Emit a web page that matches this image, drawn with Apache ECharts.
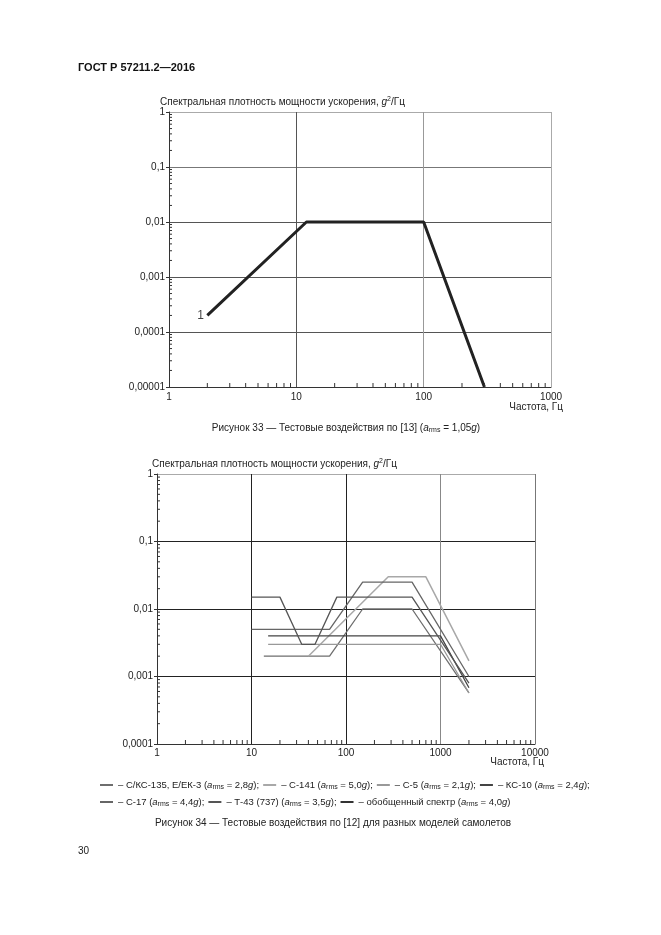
<!DOCTYPE html>
<html><head><meta charset="utf-8">
<script src="https://cdn.jsdelivr.net/npm/echarts@6/dist/echarts.min.js"></script>
<style>html,body{margin:0;padding:0;background:#fff}#c{width:661px;height:935px}</style>
</head><body><div id="c"></div>
<script>
const FONT = '"Liberation Sans", Arial, sans-serif';
// ---- Figure 33 data ----
const fig33Freq = [2, 12, 100, 300];
const fig33Psd = [0.0002, 0.01, 0.01, 0.00001];
const fig33XTicks = ['1', '10', '100', '1000'];
const fig33YTicks = ['0,00001', '0,0001', '0,001', '0,01', '0,1', '1'];
// ---- Figure 34 data ----
const fig34XTicks = ['1', '10', '100', '1000', '10000'];
const fig34YTicks = ['0,0001', '0,001', '0,01', '0,1', '1'];
const seriesNames = ['С/КС-135, Е/ЕК-3', 'С-141', 'С-5', 'КС-10', 'С-17', 'Т-43 (737)', 'обобщенный спектр'];
const seriesArms = ['2,8', '5,0', '2,1', '2,4', '4,4', '3,5', '4,0'];
const kc135Freq = [13.5, 67, 150, 500, 2000];
const kc135Psd = [0.002, 0.002, 0.01, 0.01, 0.00057];
const c141Freq = [40, 280, 700, 2000];
const c141Psd = [0.002, 0.03, 0.03, 0.0017];
const c5Freq = [15, 1000, 2000];
const c5Psd = [0.003, 0.003, 0.00057];
const kc10Freq = [15, 1000, 2000];
const kc10Psd = [0.004, 0.004, 0.00068];
const c17Freq = [10, 67, 150, 500, 2000];
const c17Psd = [0.005, 0.005, 0.025, 0.025, 0.001];
const t43Freq = [10, 20, 34, 47, 80, 500, 2000];
const t43Psd = [0.015, 0.015, 0.003, 0.003, 0.015, 0.015, 0.0008];
const genFreq = [];
const genPsd = [];

const fig34Freqs = [kc135Freq, c141Freq, c5Freq, kc10Freq, c17Freq, t43Freq, genFreq];
const fig34Psds = [kc135Psd, c141Psd, c5Psd, kc10Psd, c17Psd, t43Psd, genPsd];
const fig34Colors = ['#6e6e6e', '#a8a8a8', '#999999', '#444444', '#666666', '#555555', '#333333'];

const rich = {
  i: { fontStyle: 'italic', fontSize: 10, fontFamily: FONT, color: '#222' },
  sub: { fontSize: 7, fontFamily: FONT, color: '#222', padding: [5, 0, 0, 0] },
  sup: { fontSize: 7, fontFamily: FONT, color: '#222', padding: [0, 0, 6, 0] }
};
const richLeg = {
  i: { fontStyle: 'italic', fontSize: 9.5, fontFamily: FONT, color: '#222' },
  sub: { fontSize: 7, fontFamily: FONT, color: '#222', padding: [5, 0, 0, 0] }
};

function pairs(xs, ys) { return xs.map((x, i) => [x, ys[i]]); }
function minorVals(e0, e1) {
  const r = [];
  for (let e = e0; e < e1; e++) for (let k = 2; k <= 9; k++) r.push(k * Math.pow(10, e));
  return r;
}
function logFmt(labels, e0) {
  return v => labels[Math.round(Math.log10(v)) - e0] || '';
}
function tickSeries(idx, vals, dir, fixed, len) {
  return {
    type: 'custom', xAxisIndex: idx, yAxisIndex: idx, silent: true, z: 5,
    data: vals.map(v => dir === 'x' ? [v, fixed] : [fixed, v]),
    renderItem(params, api) {
      const p = api.coord([api.value(0), api.value(1)]);
      const shape = dir === 'x'
        ? { x1: p[0], y1: p[1], x2: p[0], y2: p[1] - len }
        : { x1: p[0], y1: p[1], x2: p[0] + len, y2: p[1] };
      return { type: 'line', shape, style: { stroke: '#333', lineWidth: 1 } };
    }
  };
}
const axisLbl = { fontSize: 10, fontFamily: FONT, color: '#222' };

const chart = echarts.init(document.getElementById('c'), null, { renderer: 'canvas' });

const fig34Series = seriesNames.map((n, k) => ({
  name: n, type: 'line', xAxisIndex: 1, yAxisIndex: 1,
  data: pairs(fig34Freqs[k], fig34Psds[k]),
  symbol: 'none', color: fig34Colors[k],
  itemStyle: { color: fig34Colors[k] },
  lineStyle: { color: fig34Colors[k], width: k === 1 ? 1.5 : 1.3 },
  z: 3
}));

function legendFmt(name) {
  const k = seriesNames.indexOf(name);
  return '– ' + name + ' ({i|a}{sub|rms} = ' + seriesArms[k] + '{i|g});'.replace(');', k === 6 ? ')' : ');');
}
const legendBase = {
  left: 100, itemWidth: 13, itemHeight: 2, itemGap: 4, icon: 'rect', selectedMode: false,
  padding: 0,
  textStyle: { fontSize: 9.5, fontFamily: FONT, color: '#222', rich: richLeg },
  formatter: legendFmt
};

chart.setOption({
  backgroundColor: '#fff',
  animation: false,
  grid: [
    { left: 169, top: 112, width: 382, height: 275 },
    { left: 157, top: 474, width: 378, height: 270 }
  ],
  xAxis: [
    {
      type: 'log', logBase: 10, gridIndex: 0, min: 1, max: 1000,
      axisLine: { lineStyle: { color: '#333', width: 1 } },
      axisTick: { show: false },
      axisLabel: Object.assign({ margin: 5, formatter: logFmt(fig33XTicks, 0) }, axisLbl),
      splitLine: { show: true, lineStyle: { color: ['#333', '#555', '#999', '#aaa'], width: 1 } }
    },
    {
      type: 'log', logBase: 10, gridIndex: 1, min: 1, max: 10000,
      axisLine: { lineStyle: { color: '#333', width: 1 } },
      axisTick: { show: false },
      axisLabel: Object.assign({ margin: 4, formatter: logFmt(fig34XTicks, 0) }, axisLbl),
      splitLine: { show: true, lineStyle: { color: ['#333', '#222', '#222', '#888', '#777'], width: 1 } }
    }
  ],
  yAxis: [
    {
      type: 'log', logBase: 10, gridIndex: 0, min: 0.00001, max: 1,
      axisLine: { lineStyle: { color: '#333', width: 1 } },
      axisTick: { show: true, length: 3, lineStyle: { color: '#333' } },
      axisLabel: Object.assign({ margin: 4, formatter: logFmt(fig33YTicks, -5) }, axisLbl),
      splitLine: { show: true, lineStyle: { color: ['#333', '#555', '#555', '#555', '#777', '#aaa'], width: 1 } }
    },
    {
      type: 'log', logBase: 10, gridIndex: 1, min: 0.0001, max: 1,
      axisLine: { lineStyle: { color: '#333', width: 1 } },
      axisTick: { show: true, length: 3, lineStyle: { color: '#333' } },
      axisLabel: Object.assign({ margin: 4, formatter: logFmt(fig34YTicks, -4) }, axisLbl),
      splitLine: { show: true, lineStyle: { color: ['#333', '#222', '#222', '#222', '#aaa'], width: 1 } }
    }
  ],
  legend: [
    Object.assign({ top: 780, data: seriesNames.slice(0, 4) }, legendBase),
    Object.assign({ top: 797, data: seriesNames.slice(4) }, legendBase)
  ],
  graphic: [
    { type: 'text', x: 78, y: 68, style: { text: 'ГОСТ Р 57211.2—2016', font: 'bold 11px ' + FONT, fill: '#111', textVerticalAlign: 'middle' } },
    { type: 'text', x: 160, y: 102, style: { text: 'Спектральная плотность мощности ускорения, {i|g}{sup|2}/Гц', font: '10px ' + FONT, fill: '#222', textVerticalAlign: 'middle', rich } },
    { type: 'text', x: 563, y: 407, style: { text: 'Частота, Гц', font: '10px ' + FONT, fill: '#222', textAlign: 'right', textVerticalAlign: 'middle' } },
    { type: 'text', x: 346, y: 428, style: { text: 'Рисунок 33 — Тестовые воздействия по [13] ({i|a}{sub|rms} = 1,05{i|g})', font: '10px ' + FONT, fill: '#222', textAlign: 'center', textVerticalAlign: 'middle', rich } },
    { type: 'text', x: 152, y: 464, style: { text: 'Спектральная плотность мощности ускорения, {i|g}{sup|2}/Гц', font: '10px ' + FONT, fill: '#222', textVerticalAlign: 'middle', rich } },
    { type: 'text', x: 544, y: 762, style: { text: 'Частота, Гц', font: '10px ' + FONT, fill: '#222', textAlign: 'right', textVerticalAlign: 'middle' } },
    { type: 'text', x: 333, y: 823, style: { text: 'Рисунок 34 — Тестовые воздействия по [12] для разных моделей самолетов', font: '10px ' + FONT, fill: '#222', textAlign: 'center', textVerticalAlign: 'middle' } },
    { type: 'text', x: 78, y: 851, style: { text: '30', font: '10px ' + FONT, fill: '#222', textVerticalAlign: 'middle' } }
  ],
  series: [
    {
      type: 'line', xAxisIndex: 0, yAxisIndex: 0, data: pairs(fig33Freq, fig33Psd),
      symbol: 'none', lineStyle: { color: '#222', width: 3 }, z: 4
    },
    {
      type: 'scatter', xAxisIndex: 0, yAxisIndex: 0, data: [[fig33Freq[0], fig33Psd[0]]],
      symbolSize: 1, itemStyle: { color: 'rgba(0,0,0,0)' }, silent: true,
      label: { show: true, formatter: '1', position: 'left', distance: 3, fontSize: 12, fontFamily: FONT, color: '#111' }
    },
    tickSeries(0, minorVals(0, 3), 'x', 0.00001, 4),
    tickSeries(0, minorVals(-5, 0), 'y', 1, 3),
    tickSeries(1, minorVals(0, 4), 'x', 0.0001, 4),
    tickSeries(1, minorVals(-4, 0), 'y', 1, 3)
  ].concat(fig34Series)
});
</script>
</body></html>
